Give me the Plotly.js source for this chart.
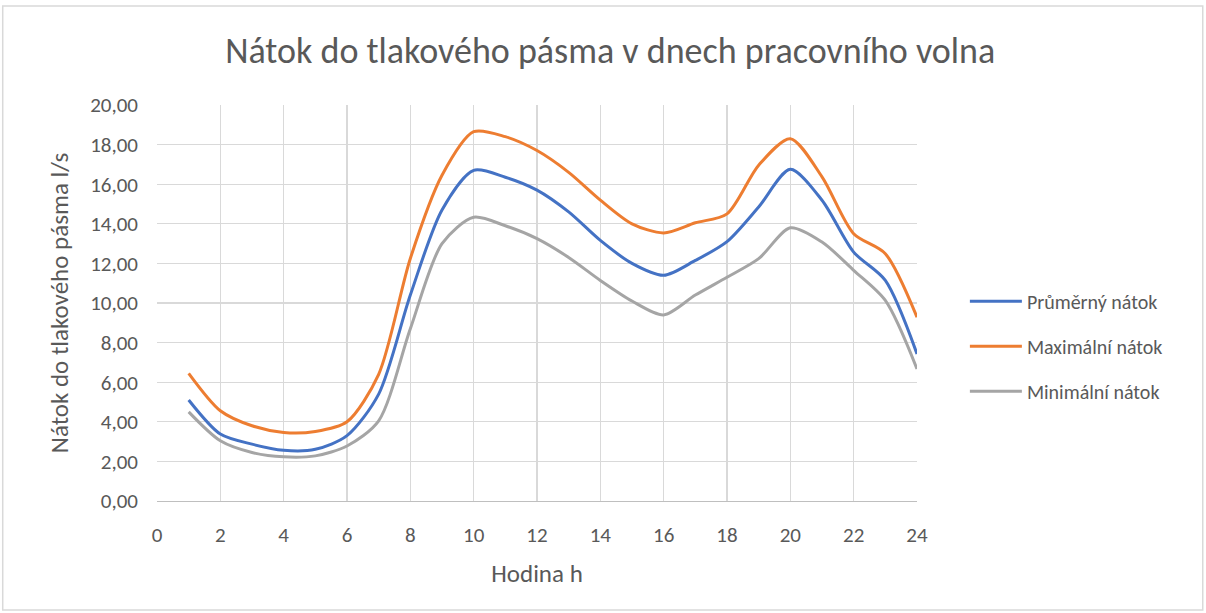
<!DOCTYPE html>
<html><head><meta charset="utf-8">
<script src="https://cdn.plot.ly/plotly-3.0.1.min.js"></script>
<style>html,body{margin:0;padding:0;background:#fff;}</style>
</head><body>
<div id="chart" style="width:1206px;height:613px;"></div>
<script>
const hours = [1,2,3,4,5,6,7,8,9,10,11,12,13,14,15,16,17,18,19,20,21,22,23,24];
const prumerny = [5.10,3.38,2.87,2.56,2.61,3.30,5.40,10.40,14.70,16.70,16.35,15.70,14.60,13.16,12.00,11.40,12.15,13.10,14.85,16.75,15.19,12.57,11.14,7.43];
const maximalni = [6.45,4.56,3.80,3.46,3.51,4.00,6.40,12.25,16.45,18.65,18.40,17.70,16.60,15.20,14.00,13.54,14.05,14.50,16.96,18.30,16.37,13.50,12.49,9.28];
const minimalni = [4.50,3.04,2.45,2.23,2.28,2.78,4.05,8.70,13.00,14.33,13.90,13.25,12.30,11.14,10.10,9.40,10.40,11.30,12.24,13.80,13.08,11.65,10.13,6.67];
const seriesNames = ["Průměrný nátok","Maximální nátok","Minimální nátok"];
const colors = ["#4472C4","#ED7D31","#A5A5A5"];
const font = "Calibri, Carlito, Lato, sans-serif";
const traces = [prumerny, maximalni, minimalni].map((ys,i)=>({
  x: hours, y: ys, name: seriesNames[i], type:'scatter', mode:'lines', legendgroup:'g'+i,
  line:{color:colors[i], width:3, shape:'spline', smoothing:0.8}
}));
const layout = {
  width:1206, height:613,
  margin:{l:157, r:289, t:105, b:112},
  paper_bgcolor:'#fff', plot_bgcolor:'#fff',
  separators:',.',
  font:{family:font, color:'#595959', size:21},
  title:{text:'Nátok do tlakového pásma v dnech pracovního volna', x:0.506, xanchor:'center', y:0.918, yanchor:'middle', font:{size:36, color:'#595959', family:font, weight:300}},
  xaxis:{range:[0,24], dtick:2, tick0:0, showgrid:true, gridcolor:'#D9D9D9', gridwidth:1.3, zeroline:false,
    showline:true, linecolor:'#BFBFBF', linewidth:1.3, ticks:'', ticklabelstandoff:14, tickfont:{size:21, color:'#595959'},
    title:{text:'Hodina h', font:{size:25, color:'#595959'}, standoff:18}},
  yaxis:{range:[0,20], dtick:2, tickformat:'.2f', showgrid:true, gridcolor:'#D9D9D9', gridwidth:1.3, zeroline:false,
    showline:false, ticks:'', ticklabelstandoff:18, tickfont:{size:21, color:'#595959'},
    title:{text:'Nátok do tlakového pásma l/s', font:{size:25, color:'#595959'}, standoff:14}},
  legend:{x:1.063, y:0.391, xanchor:'left', yanchor:'middle', font:{size:20, color:'#595959'}, tracegroupgap:16, itemwidth:52},
  showlegend:true,
  shapes:[{type:'rect', xref:'paper', yref:'paper', x0:-0.203, x1:1.376, y0:-0.275, y1:1.25, line:{color:'#D9D9D9', width:1.5}}]
};
Plotly.newPlot('chart', traces, layout, {displayModeBar:false, staticPlot:true});
</script>
</body></html>
